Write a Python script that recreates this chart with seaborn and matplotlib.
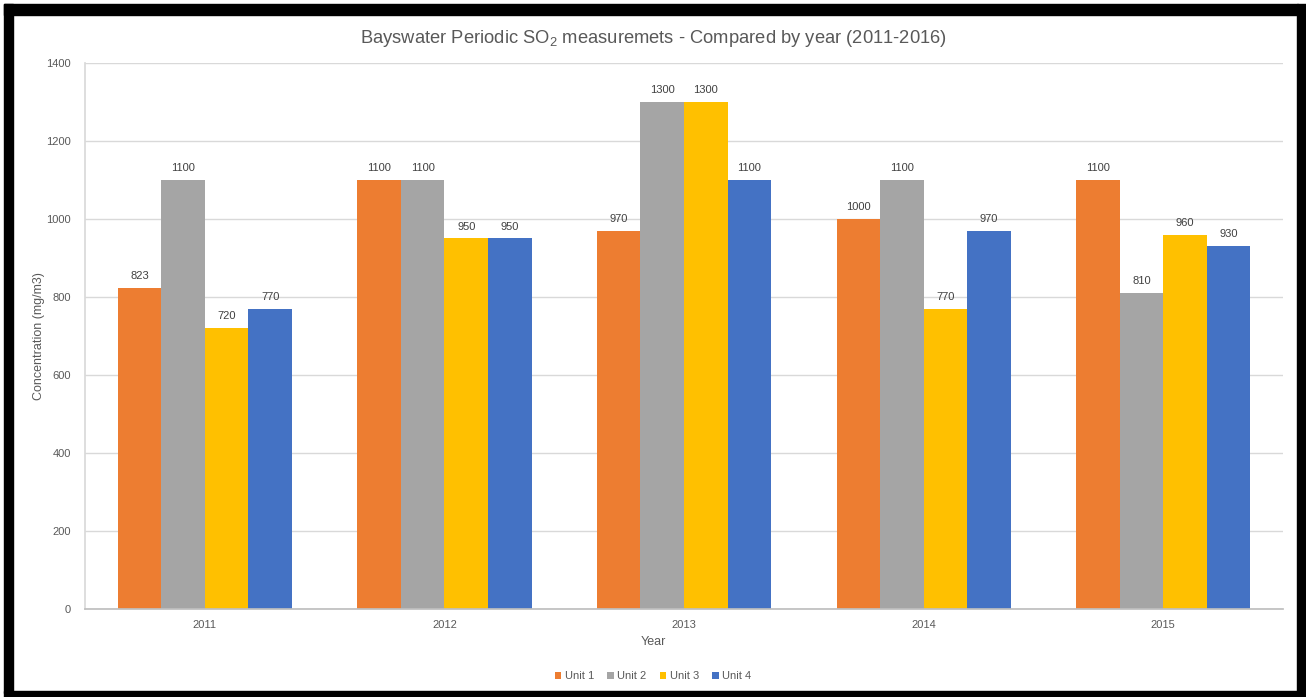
import matplotlib
matplotlib.use("Agg")
import matplotlib.pyplot as plt
import seaborn as sns
import pandas as pd
from matplotlib.patches import Rectangle

years = ["2011", "2012", "2013", "2014", "2015"]
units = ["Unit 1", "Unit 2", "Unit 3", "Unit 4"]
unit1 = [823, 1100, 970, 1000, 1100]
unit2 = [1100, 1100, 1300, 1100, 810]
unit3 = [720, 950, 1300, 770, 960]
unit4 = [770, 950, 1100, 970, 930]
yticks = [0, 200, 400, 600, 800, 1000, 1200, 1400]

colors = ["#ED7D31", "#A5A5A5", "#FFC000", "#4472C4"]

rows = []
for u, vals in zip(units, [unit1, unit2, unit3, unit4]):
    for y, v in zip(years, vals):
        rows.append({"Year": y, "Unit": u, "Value": v})
df = pd.DataFrame(rows)

sns.set_theme(style="white")
plt.rcParams["font.family"] = ["Liberation Sans", "DejaVu Sans"]
plt.rcParams["mathtext.default"] = "regular"

fig = plt.figure(figsize=(13.06, 6.97), dpi=100)
ax = fig.add_axes([0.0651, 0.1263, 0.9173, 0.7833])

sns.barplot(data=df, x="Year", y="Value", hue="Unit", hue_order=units,
            order=years, palette=colors, width=0.727, saturation=1,
            errorbar=None, ax=ax, legend=True, linewidth=0)

txt = "#595959"
for cont in ax.containers:
    ax.bar_label(cont, labels=[f"{int(v)}" for v in cont.datavalues],
                 padding=5, fontsize=8, color="#404040")

ax.set_ylim(0, 1400)
ax.set_yticks(yticks)
ax.set_xlim(-0.5, len(years) - 0.5)
ax.yaxis.grid(True, color="#D9D9D9", linewidth=1)
ax.set_axisbelow(True)
for s in ["top", "right"]:
    ax.spines[s].set_visible(False)
ax.spines["left"].set_color("#D9D9D9")
ax.spines["bottom"].set_color("#BFBFBF")
ax.tick_params(axis="both", length=0, labelsize=8, colors=txt, pad=10)
ax.tick_params(axis="x", pad=8)
ax.set_xlabel("Year", fontsize=9, color=txt, labelpad=6)
ax.xaxis.set_label_coords((653 - 85) / 1198, -0.05)
ax.set_ylabel("Concentration (mg/m3)", fontsize=9, color=txt, labelpad=1)
fig.text(0.5, 0.945,
         r"Bayswater Periodic SO$_2$ measuremets - Compared by year (2011-2016)",
         fontsize=13.2, color=txt, ha="center", va="center")

handles, labels = ax.get_legend_handles_labels()
ax.legend_.remove()
leg = fig.legend(handles, labels, loc="center", bbox_to_anchor=(0.5, 0.03), ncol=4,
                 frameon=False, fontsize=8, handlelength=0.6, handleheight=0.6,
                 handletextpad=0.3, columnspacing=1.2)
for t in leg.get_texts():
    t.set_color(txt)

# black frame around the picture
W, H = 1306, 697
frame = [(4, 4, 9, 689), (4, 4, 1294, 11), (1297, 4, 9, 693), (4, 691, 1302, 6)]
for (x, y, w, h) in frame:
    fig.patches.append(Rectangle((x / W, 1 - (y + h) / H), w / W, h / H,
                                 transform=fig.transFigure, color="black", zorder=10))

fig.savefig("out.png", dpi=100)
